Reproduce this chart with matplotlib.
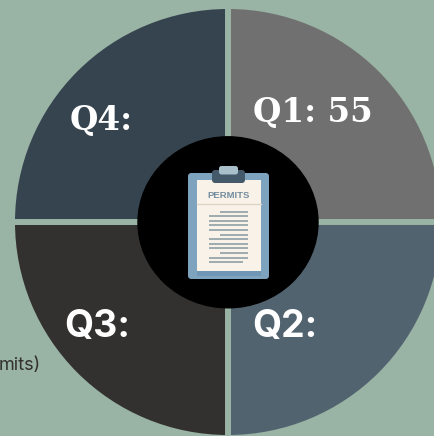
import matplotlib.pyplot as plt
from matplotlib.patches import Ellipse, FancyBboxPatch, Rectangle

# quarters, clockwise from the top right
labels = ['Q1: 55', 'Q2:', 'Q3:', 'Q4:']
shares = [25, 25, 25, 25]
colors = ['#707070', '#526370', '#33312f', '#36444f']
bg = '#99b3a4'

# rows of text on the clipboard sheet
line_left = [220, 209, 209, 209, 209, 220, 209, 209, 209, 220, 209, 209]
line_right = [248, 248, 248, 248, 248, 248, 248, 248, 248, 248, 248, 243]
line_y = [211.7, 216, 220.7, 225.3, 230, 234.7, 239.3, 243.7, 248.3, 253, 257.7, 262.3]

fig = plt.figure(figsize=(4.35, 4.36), dpi=100, facecolor=bg)
ax = fig.add_axes([0, 0, 1, 1])

# y axis gets inverted below, so 270 is the top of the picture
ax.pie(shares, colors=colors, center=(228, 222), radius=216, startangle=270,
       counterclock=True, frame=True,
       wedgeprops={'edgecolor': bg, 'linewidth': 4.3})
ax.set_xlim(0, 435)
ax.set_ylim(436, 0)
ax.set_aspect('auto')
ax.axis('off')

ax.add_patch(Ellipse((228, 222.3), 180, 171, color='black', zorder=3))

# clipboard
ax.add_patch(FancyBboxPatch((188, 173), 81, 106, boxstyle='round,pad=0,rounding_size=3.5',
                            fc='#7da3bf', ec='none', zorder=4))
ax.add_patch(Rectangle((197, 180), 64.5, 96, fc='#6f97b5', ec='none', zorder=5))
ax.add_patch(Rectangle((197, 180), 64.5, 91, fc='#f9f2e8', ec='none', zorder=5))
ax.add_patch(FancyBboxPatch((212, 170), 33, 13, boxstyle='round,pad=0,rounding_size=3',
                            fc='#44596a', ec='none', zorder=6))
ax.add_patch(FancyBboxPatch((219, 166), 19, 8.5, boxstyle='round,pad=0,rounding_size=2.5',
                            fc='#a9c0cb', ec='none', zorder=7))
ax.plot([197, 261.5], [204, 204], color='#ddd6c6', lw=1, zorder=6)
ax.text(228.5, 195, 'PERMITS', color='#748d9f', fontsize=6.8, fontweight='bold',
        family='Liberation Sans', ha='center', va='center', zorder=6)
for left, right, y in zip(line_left, line_right, line_y):
    ax.plot([left, right], [y, y], color='#84979f', lw=1.1, solid_capstyle='butt', zorder=6)

# quarter labels
ax.text(253, 112, labels[0], color='white', fontsize=23.5, fontweight='bold',
        family='DejaVu Serif', va='center')
ax.text(252, 327, labels[1], color='white', fontsize=27, fontweight='bold',
        family='Inter', va='center')
ax.text(64, 327, labels[2], color='white', fontsize=27, fontweight='bold',
        family='Inter', va='center')
ax.text(70, 120, labels[3], color='white', fontsize=23.5, fontweight='bold',
        family='DejaVu Serif', va='center')

# legend text cut off at the left edge
ax.text(41, 365, 'mits)', color='#33312f', fontsize=13, family='Inter',
        ha='right', va='center')

fig.savefig('out.png', dpi=100, facecolor=bg)
